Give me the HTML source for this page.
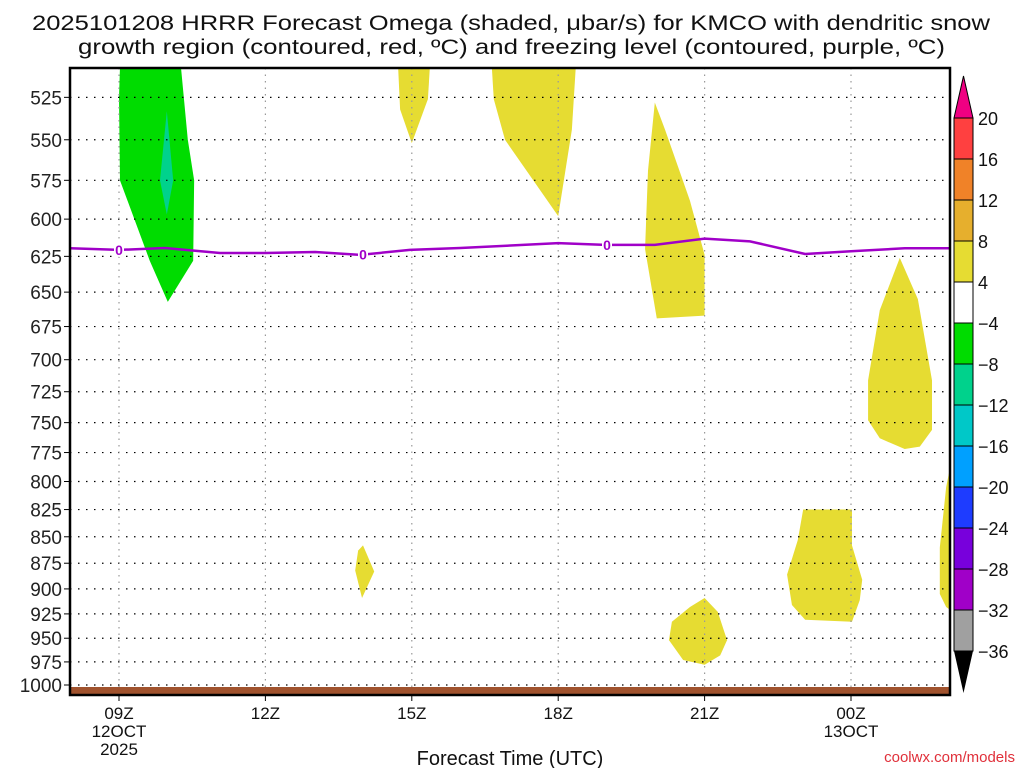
<!DOCTYPE html>
<html><head><meta charset="utf-8"><style>
body{margin:0;background:#fff;}
svg{display:block;font-family:"Liberation Sans","DejaVu Sans",sans-serif;}
</style></head><body>
<svg id="chart" width="1024" height="768" viewBox="0 0 1024 768" xmlns="http://www.w3.org/2000/svg">
<text x="32" y="30" font-size="21" textLength="958" lengthAdjust="spacingAndGlyphs" fill="#111">2025101208 HRRR Forecast Omega (shaded, μbar/s) for KMCO with dendritic snow</text>
<text x="78" y="54" font-size="21" textLength="867" lengthAdjust="spacingAndGlyphs" fill="#111">growth region (contoured, red, ºC) and freezing level (contoured, purple, ºC)</text>
<g id="plot"></g>
<text x="510" y="765" font-size="20" text-anchor="middle" fill="#111">Forecast Time (UTC)</text>
<text x="1015" y="762" font-size="15" text-anchor="end" fill="#e0303a">coolwx.com/models</text>
<g id="cbar"></g>
</svg>
<script>
const pressureTicks=[525,550,575,600,625,650,675,700,725,750,775,800,825,850,875,900,925,950,975,1000];
const timeTicks=[0,3,6,9,12,15];
const timeLabels=[["09Z","12OCT","2025"],["12Z"],["15Z"],["18Z"],["21Z"],["00Z","13OCT"]];
const greenArea=[[0.02,508],[1.27,508],[1.41,550],[1.54,575],[1.52,628],[1.0,657],[0.63,628],[0.02,575],[0,525]];
const tealArea=[[0.98,533],[1.11,575],[0.98,597],[0.84,575]];
const yellowAreas=[
[[5.72,508],[6.37,508],[6.33,526],[6.0,552],[5.76,532]],
[[7.64,508],[9.36,508],[9.28,544],[9.0,598],[8.42,572],[7.91,550],[7.68,526]],
[[10.98,528],[11.19,544],[11.7,588],[12.0,624],[12.0,667],[11.02,669],[10.78,620],[10.84,569]],
[[16.0,626],[16.37,655],[16.66,716],[16.66,756],[16.41,770],[16.1,772],[15.59,763],[15.35,748],[15.35,716],[15.59,663]],
[[17.03,788],[16.95,805],[16.82,860],[16.82,905],[16.95,918],[17.03,921]],
[[5.0,858],[5.23,883],[4.98,909],[4.84,882],[4.9,863]],
[[12.0,909],[12.27,923],[12.46,952],[12.32,968],[12.0,978],[11.56,973],[11.27,952],[11.33,933],[11.7,918]],
[[14.02,825],[15.02,825],[15.02,858],[15.23,891],[15.18,911],[15.02,933],[14.06,931],[13.79,916],[13.69,886],[13.91,853]]
];
const freezeHours=[-1,0,0.94,2.07,3,4.02,4.94,5.96,6.99,9,9.96,10.98,12,12.93,14.06,15,16.1,17.03];
const freezeP=[619.5,620.6,619.3,622.7,622.7,622,624,620.6,619.3,616,617.2,617.2,613,614.8,623.4,621.5,619.5,619.5];
const freezeLabelHours=[0,5,10];
const cbLevels=[20,16,12,8,4,-4,-8,-12,-16,-20,-24,-28,-32,-36];
const cbColors=["#ff4040","#f08228","#e6af2d","#e6dc32","#ffffff","#00dc00","#00d28c","#00c8c8","#00a0ff","#1e3cff","#7800dc","#a000c8","#a0a0a0"];

const NS="http://www.w3.org/2000/svg";
const L=70,R=950,T=68,B=695;
const X=h=>119+48.8*h;
const Y=p=>685-912*Math.log(1000/p);
function mk(parent,tag,attrs){const e=document.createElementNS(NS,tag);for(const k in attrs)e.setAttribute(k,attrs[k]);parent.appendChild(e);return e;}
const g=document.getElementById('plot');
const cp=mk(g,'clipPath',{id:'clip'});mk(cp,'rect',{x:L,y:T,width:R-L,height:B-T});
const fills=mk(g,'g',{'clip-path':'url(#clip)'});
function poly(pts,color,name){const e=mk(fills,'polygon',{points:pts.map(q=>X(q[0])+','+Y(q[1])).join(' '),fill:color});

}
poly(greenArea,'#00dc00','omega-area-green');
poly(tealArea,'#00d28c','omega-area-teal');
yellowAreas.forEach((a,i)=>poly(a,'#e6dc32','omega-area-yellow'));
// grid
pressureTicks.forEach(p=>{const y=Y(p);
const l=mk(g,'line',{x1:L,x2:R,y1:y,y2:y,stroke:'#000','stroke-width':1.2,'stroke-dasharray':'1.5 6.5'});


mk(g,'line',{x1:L-6,x2:L,y1:y,y2:y,stroke:'#000','stroke-width':1});
const t=mk(g,'text',{x:L-8,y:y+7,'font-size':19,'text-anchor':'end',fill:'#222'});t.textContent=p;

});
timeTicks.forEach((h,i)=>{const x=X(h);
const l=mk(g,'line',{x1:x,x2:x,y1:T,y2:B,stroke:'#999','stroke-width':1.2,'stroke-dasharray':'1.5 5'});


mk(g,'line',{x1:x,x2:x,y1:B,y2:B+6,stroke:'#000'});
timeLabels[i].forEach((s,j)=>{const t=mk(g,'text',{x:x,y:B+24+j*18,'font-size':17,'text-anchor':'middle',fill:'#111'});t.textContent=s;

});});
// surface
const sf=mk(g,'rect',{x:L,y:687,width:R-L,height:7,fill:'#a0522d'});


// freezing line
const fl=mk(g,'polyline',{points:freezeHours.map((h,i)=>X(h)+','+Y(freezeP[i])).join(' '),fill:'none',stroke:'#a000c8','stroke-width':2.5,'clip-path':'url(#clip)'});


function interpP(h){for(let i=0;i<freezeHours.length-1;i++){if(h>=freezeHours[i]&&h<=freezeHours[i+1]){const f=(h-freezeHours[i])/(freezeHours[i+1]-freezeHours[i]);return freezeP[i]+f*(freezeP[i+1]-freezeP[i]);}}return freezeP[0];}
freezeLabelHours.forEach(h=>{const x=X(h),y=Y(interpP(h));
mk(g,'rect',{x:x-5,y:y-7,width:10,height:14,fill:'#fff'});
const t=mk(g,'text',{x:x,y:y+5,'font-size':14,'font-weight':'bold','text-anchor':'middle',fill:'#a000c8'});t.textContent='0';

});
const fr=mk(g,'rect',{x:L,y:T,width:R-L,height:B-T,fill:'none',stroke:'#000','stroke-width':2.5});


// colorbar
const cb=document.getElementById('cbar');
const cx=954,cw=19,cy0=118,step=41;
mk(cb,'polygon',{points:`${cx},${cy0} ${cx+cw},${cy0} ${cx+cw/2},${cy0-42}`,fill:'#f00082',stroke:'#000','stroke-width':1});
cbColors.forEach((c,i)=>{const r=mk(cb,'rect',{x:cx,y:cy0+i*step,width:cw,height:step,fill:c,stroke:'#000','stroke-width':1});

});
const yb=cy0+cbColors.length*step;
mk(cb,'polygon',{points:`${cx},${yb} ${cx+cw},${yb} ${cx+cw/2},${yb+42}`,fill:'#000'});
cbLevels.forEach((v,i)=>{const t=mk(cb,'text',{x:cx+24,y:cy0+i*step+7,'font-size':18,fill:'#111'});t.textContent=v<0?'−'+(-v):String(v);

});
</script>
</body></html>
